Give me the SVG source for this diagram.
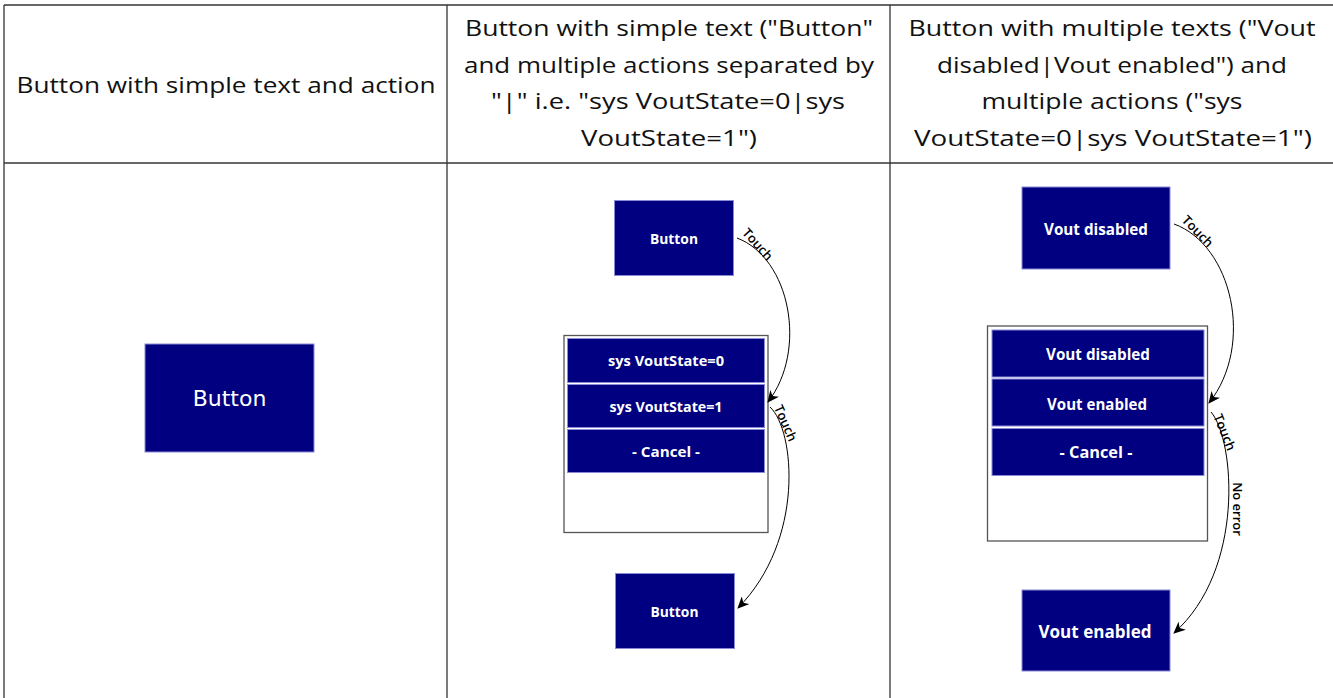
<svg xmlns="http://www.w3.org/2000/svg" width="1333" height="698" viewBox="0 0 1333 698">
<defs>
<style>
.grid{stroke:#333;stroke-width:1.3;fill:none}
.hdr{font-family:"Open Sans","Liberation Sans",sans-serif;font-size:22px;fill:#111;text-anchor:middle}
.btn{fill:#000080;stroke:#8a8ad6;stroke-width:1}
.popup{fill:#fff;stroke:#555;stroke-width:1.3}
.bt{font-family:"Open Sans","Liberation Sans",sans-serif;font-weight:bold;fill:#fff;text-anchor:middle;dominant-baseline:central}
.conn{fill:none;stroke:#000;stroke-width:1}
.lbl{font-family:"Open Sans","Liberation Sans",sans-serif;font-size:13px;font-weight:600;fill:#000;text-anchor:middle;dominant-baseline:central}
</style>
<marker id="arr" viewBox="0 0 12 11" refX="11" refY="5.5" markerWidth="12" markerHeight="11" markerUnits="userSpaceOnUse" orient="auto">
<path d="M0,0 L12,5.5 L0,11 L3.5,5.5 Z" fill="#000"/>
</marker>
</defs>
<rect width="1333" height="698" fill="#fff"/>
<g id="table">
<line class="grid" x1="4" y1="5" x2="1333" y2="5"/>
<line class="grid" x1="4" y1="163" x2="1333" y2="163"/>
<line class="grid" x1="4" y1="5" x2="4" y2="698"/>
<line class="grid" x1="447" y1="5" x2="447" y2="698"/>
<line class="grid" x1="890" y1="5" x2="890" y2="698"/>
<text class="hdr" x="226" y="93" textLength="419" lengthAdjust="spacingAndGlyphs">Button with simple text and action</text>
<text class="hdr" x="669" y="36" textLength="408" lengthAdjust="spacingAndGlyphs">Button with simple text ("Button"</text>
<text class="hdr" x="669" y="73" textLength="410" lengthAdjust="spacingAndGlyphs">and multiple actions separated by</text>
<text class="hdr" x="668" y="109" textLength="354" lengthAdjust="spacingAndGlyphs">"|" i.e. "sys VoutState=0|sys</text>
<text class="hdr" x="669" y="146" textLength="176" lengthAdjust="spacingAndGlyphs">VoutState=1")</text>
<text class="hdr" x="1112" y="36" textLength="407" lengthAdjust="spacingAndGlyphs">Button with multiple texts ("Vout</text>
<text class="hdr" x="1112" y="73" textLength="350" lengthAdjust="spacingAndGlyphs">disabled|Vout enabled") and</text>
<text class="hdr" x="1112" y="109" textLength="261" lengthAdjust="spacingAndGlyphs">multiple actions ("sys</text>
<text class="hdr" x="1113" y="146" textLength="398" lengthAdjust="spacingAndGlyphs">VoutState=0|sys VoutState=1")</text>
</g>
<g id="c1-button">
<rect class="btn" x="145" y="344" width="169" height="108"/>
<text x="229.5" y="406" font-family="DejaVu Sans, sans-serif" font-size="22" fill="#fff" text-anchor="middle">Button</text>
</g>
<g id="c2-button-top">
<rect class="btn" x="614.5" y="200.5" width="119" height="75"/>
<text class="bt" x="674" y="238" font-size="14.5" textLength="48" lengthAdjust="spacingAndGlyphs">Button</text>
</g>
<g id="c2-popup">
<rect class="popup" x="564" y="335.5" width="204" height="197"/>
<rect class="btn" x="567.5" y="338.5" width="197" height="44"/>
<text class="bt" x="666" y="360.5" font-size="14.5" textLength="116" lengthAdjust="spacingAndGlyphs">sys VoutState=0</text>
<rect class="btn" x="567.5" y="384.5" width="197" height="43"/>
<text class="bt" x="666" y="406" font-size="14.5" textLength="113" lengthAdjust="spacingAndGlyphs">sys VoutState=1</text>
<rect class="btn" x="567.5" y="429.5" width="197" height="43"/>
<text class="bt" x="666" y="451" font-size="14.5" textLength="68" lengthAdjust="spacingAndGlyphs">- Cancel -</text>
</g>
<g id="c2-button-bottom">
<rect class="btn" x="615.5" y="573.5" width="119" height="75"/>
<text class="bt" x="674.5" y="611" font-size="14.5" textLength="48" lengthAdjust="spacingAndGlyphs">Button</text>
</g>
<g id="c3-button-top">
<rect class="btn" x="1022" y="187" width="148" height="82"/>
<text class="bt" x="1096" y="228" font-size="16.5" textLength="104" lengthAdjust="spacingAndGlyphs">Vout disabled</text>
</g>
<g id="c3-popup">
<rect class="popup" x="987.5" y="326" width="220" height="215"/>
<rect class="btn" x="992" y="330" width="212" height="47"/>
<text class="bt" x="1098" y="353.5" font-size="16.5" textLength="104" lengthAdjust="spacingAndGlyphs">Vout disabled</text>
<rect class="btn" x="992" y="379" width="212" height="47"/>
<text class="bt" x="1097" y="403" font-size="16.5" textLength="100" lengthAdjust="spacingAndGlyphs">Vout enabled</text>
<rect class="btn" x="992" y="428.5" width="212" height="47"/>
<text class="bt" x="1096" y="451" font-size="16.5" textLength="73" lengthAdjust="spacingAndGlyphs">- Cancel -</text>
</g>
<g id="c3-button-bottom">
<rect class="btn" x="1022" y="590" width="148" height="81"/>
<text class="bt" x="1095" y="631" font-size="18" textLength="113" lengthAdjust="spacingAndGlyphs">Vout enabled</text>
</g>
<g id="connectors">
<path class="conn" marker-end="url(#arr)" d="M737,238 C790,258 808,350 768,402"/>
<path class="conn" marker-end="url(#arr)" d="M770,407 C795,430 805,540 738,608"/>
<path class="conn" marker-end="url(#arr)" d="M1174,224 C1232,245 1255,345 1209,403"/>
<path class="conn" marker-end="url(#arr)" d="M1211,412 C1235,440 1245,570 1174,633"/>
<text class="lbl" transform="translate(758,244) rotate(48)">Touch</text>
<text class="lbl" transform="translate(786,423) rotate(66)">Touch</text>
<text class="lbl" transform="translate(1198,231) rotate(46)">Touch</text>
<text class="lbl" transform="translate(1225,432) rotate(68)">Touch</text>
<text class="lbl" transform="translate(1238,509) rotate(90)" font-size="12">No error</text>
</g>
</svg>
